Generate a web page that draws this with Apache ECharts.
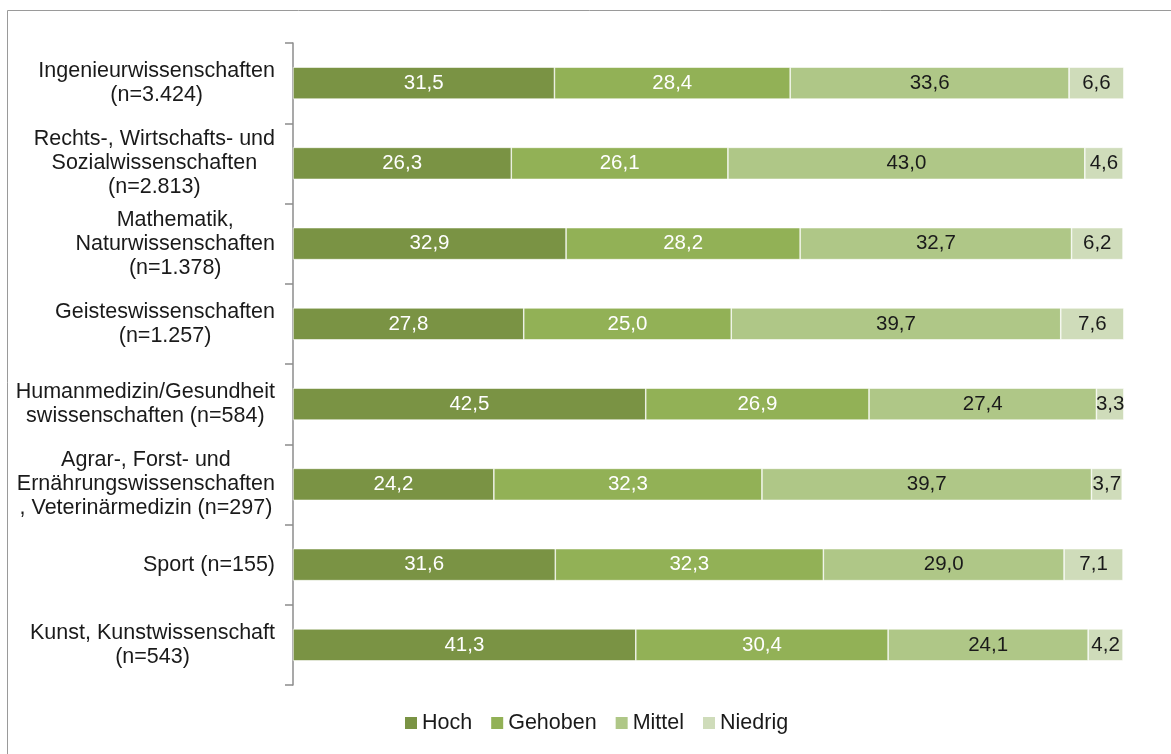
<!DOCTYPE html>
<html>
<head>
<meta charset="utf-8">
<script src="https://cdn.jsdelivr.net/npm/echarts@6/dist/echarts.min.js"></script>
<style>
  html, body { margin: 0; padding: 0; background: #fff; }
  #chart { width: 1171px; height: 754px; }
</style>
</head>
<body>
<div id="chart"></div>
<script>
// Fachrichtungen mit Fallzahlen
const categories = [
  'Ingenieurwissenschaften\n(n=3.424)',
  'Rechts-, Wirtschafts- und\nSozialwissenschaften\n(n=2.813)',
  'Mathematik,\nNaturwissenschaften\n(n=1.378)',
  'Geisteswissenschaften\n(n=1.257)',
  'Humanmedizin/Gesundheit\nswissenschaften (n=584)',
  'Agrar-, Forst- und\nErnährungswissenschaften\n, Veterinärmedizin (n=297)',
  'Sport (n=155)',
  'Kunst, Kunstwissenschaft\n(n=543)'
];

// Anteile in Prozent
const hoch    = [31.5, 26.3, 32.9, 27.8, 42.5, 24.2, 31.6, 41.3];
const gehoben = [28.4, 26.1, 28.2, 25.0, 26.9, 32.3, 32.3, 30.4];
const mittel  = [33.6, 43.0, 32.7, 39.7, 27.4, 39.7, 29.0, 24.1];
const niedrig = [6.6, 4.6, 6.2, 7.6, 3.3, 3.7, 7.1, 4.2];

const seriesNames = ['Hoch', 'Gehoben', 'Mittel', 'Niedrig'];
const seriesData = [hoch, gehoben, mittel, niedrig];
const colors = ['#7a9344', '#92b156', '#afc787', '#cfdcba'];
const labelColors = ['#ffffff', '#ffffff', '#1a1a1a', '#1a1a1a'];

const FONT = '"Liberation Sans", Arial, sans-serif';
const FS = 21.5;
const FS_BAR = 20.5;

const chart = echarts.init(document.getElementById('chart'), null, { renderer: 'canvas' });

const series = seriesNames.map((name, i) => ({
  name: name,
  type: 'bar',
  stack: 'total',
  barWidth: 32,
  clip: false,
  data: seriesData[i],
  itemStyle: { color: colors[i], borderColor: '#ffffff', borderWidth: 0.6 },
  label: {
    show: true,
    position: 'inside',
    color: labelColors[i],
    fontFamily: FONT,
    fontSize: FS_BAR,
    formatter: p => p.value.toFixed(1).replace('.', ',')
  },
  emphasis: { disabled: true }
}));

chart.setOption({
  animation: false,
  color: colors,
  graphic: [{
    type: 'rect',
    shape: { x: 7.5, y: 10.5, width: 1200, height: 800 },
    style: { fill: 'none', stroke: '#9a9a9a', lineWidth: 1 },
    silent: true
  }],
  grid: { left: 293, right: 48, top: 43, bottom: 69, containLabel: false },
  xAxis: {
    type: 'value',
    min: 0,
    max: 100,
    show: false
  },
  yAxis: {
    type: 'category',
    inverse: true,
    data: categories,
    axisLine: { show: true, lineStyle: { color: '#8c8c8c', width: 1.5 } },
    axisTick: { show: true, length: 8, lineStyle: { color: '#8c8c8c', width: 1.5 } },
    axisLabel: {
      margin: 18,
      align: 'right',
      fontFamily: FONT,
      fontSize: FS,
      color: '#1a1a1a',
      lineHeight: 24,
      formatter: v => v.split('\n').map(l => '{c|' + l + '}').join('\n'),
      rich: {
        c: { align: 'center', fontFamily: FONT, fontSize: FS, color: '#1a1a1a', lineHeight: 24 }
      }
    }
  },
  legend: {
    data: seriesNames,
    bottom: 15,
    left: 400,
    icon: 'rect',
    itemWidth: 12,
    itemHeight: 12,
    itemGap: 19,
    itemStyle: { borderWidth: 0 },
    textStyle: { fontFamily: FONT, fontSize: FS, color: '#1a1a1a', padding: [0, 0, 0, 0] }
  },
  series: series
});
</script>
</body>
</html>
